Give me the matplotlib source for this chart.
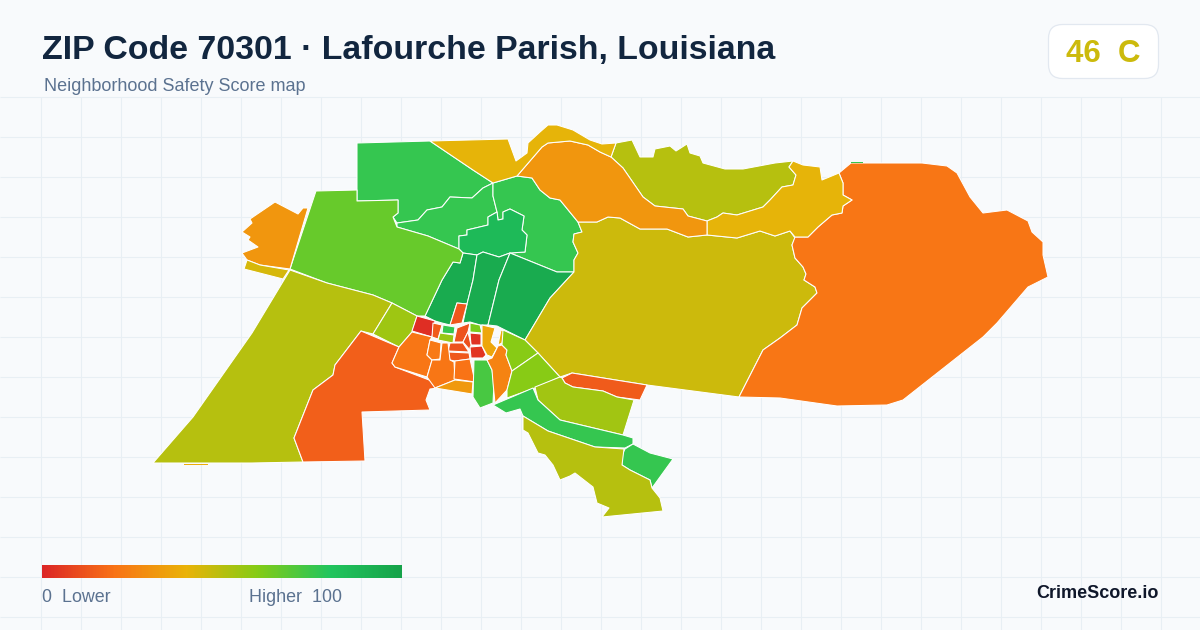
import numpy as np
import matplotlib.pyplot as plt
from matplotlib.colors import LinearSegmentedColormap
from matplotlib.patches import FancyBboxPatch, Polygon

plt.rcParams["font.family"] = ["Liberation Sans", "DejaVu Sans"]

TITLE = "ZIP Code 70301 · Lafourche Parish, Louisiana"
SUBTITLE = "Neighborhood Safety Score map"
GRADE = "46  C"
OVERALL_SCORE = 46

# map outlines, in picture pixels
nw_green = [(357,143),(430,141),(473,170),(493,183),(483,188),(472,198),(450,197),(442,207),(427,210),(418,220),(397,223),(393,217),(398,213),(398,200),(357,201)]
band_green = [(397,223),(418,220),(427,210),(442,207),(450,197),(472,198),(483,188),(493,183),(493,196),(497,212),(488,217),(488,225),(467,230),(467,235),(459,236),(459,249),(428,236),(397,227)]
ne_green = [(493,183),(517,176),(532,178),(540,190),(550,198),(560,200),(578,222),(582,232),(574,234),(573,242),(578,253),(574,260),(574,272),(557,272),(510,253),(525,252),(527,235),(522,230),(524,216),(510,209),(503,212),(503,219),(498,220),(497,212),(493,196)]
inner_green = [(459,249),(459,236),(467,235),(467,230),(488,225),(488,217),(497,212),(498,220),(503,219),(503,212),(510,209),(524,216),(522,230),(527,235),(525,252),(510,253),(499,257),(483,252),(477,255),(463,253)]
strip_left = [(463,253),(477,255),(473,280),(467,304),(457,303),(450,325),(442,323),(435,321),(425,316),(442,280),(453,262),(460,263)]
strip_mid = [(477,255),(483,252),(499,257),(510,253),(499,280),(488,325),(480,325),(470,322),(463,323),(467,304),(473,280)]
strip_right = [(510,253),(557,272),(574,272),(550,298),(525,340),(497,326),(488,325),(499,280)]
center_olive = [(574,272),(574,260),(578,253),(573,242),(574,234),(582,232),(578,222),(597,222),(608,217),(620,218),(640,229),(667,229),(688,237),(707,235),(737,238),(760,231),(775,236),(790,231),(795,238),(792,245),(795,258),(803,267),(806,274),(804,280),(815,287),(817,293),(802,308),(797,325),(780,338),(763,350),(739,397),(647,385),(572,373),(560,377),(538,353),(525,340),(550,298)]
east_orange = [(839,173),(851,163),(922,163),(947,166),(957,173),(970,197),(983,213),(1007,210),(1028,221),(1032,232),(1043,242),(1043,255),(1048,277),(1028,287),(997,323),(983,337),(903,400),(887,405),(837,406),(780,398),(739,397),(763,350),(780,338),(797,325),(802,308),(817,293),(815,287),(804,280),(806,274),(803,267),(795,258),(792,245),(795,237),(808,237),(818,227),(832,215),(842,213),(843,206),(852,200),(843,195),(843,183)]
north_olive = [(611,157),(616,143),(632,140),(640,157),(653,157),(655,149),(670,146),(676,151),(687,144),(690,153),(700,156),(703,163),(725,169),(743,169),(775,163),(793,161),(789,167),(796,175),(793,185),(782,187),(770,200),(763,207),(737,215),(723,213),(717,217),(707,221),(688,216),(683,209),(655,206),(643,197),(623,168)]
ne_yellow = [(793,161),(803,165),(820,167),(822,180),(839,173),(843,183),(843,195),(852,200),(843,206),(842,213),(832,215),(818,227),(808,237),(795,237),(790,231),(775,236),(760,231),(737,238),(707,235),(707,221),(717,217),(723,213),(737,215),(763,207),(770,200),(782,187),(793,185),(796,175),(789,167)]
north_orange = [(517,176),(542,147),(548,143),(570,141),(588,145),(600,152),(611,157),(623,168),(643,197),(655,206),(683,209),(688,216),(707,221),(707,235),(688,237),(667,229),(640,229),(620,218),(608,217),(597,222),(578,222),(560,200),(550,198),(540,190),(532,178)]
top_yellow = [(430,141),(508,139),(516,161),(527,153),(528,143),(540,132),(548,125),(557,125),(573,130),(590,140),(602,144),(616,143),(611,157),(600,152),(588,145),(570,141),(548,143),(542,147),(517,176),(493,183),(473,170)]
west_lime = [(316,191),(357,190),(357,201),(398,200),(398,213),(393,217),(397,227),(428,236),(459,249),(463,253),(460,263),(453,262),(442,280),(425,316),(417,316),(392,303),(373,295),(327,283),(290,269)]
west_orange = [(275,202),(298,214),(303,208),(308,208),(290,269),(260,265),(247,260),(242,253),(258,247),(248,240),(250,237),(242,232),(252,223),(250,219)]
west_sliver = [(247,260),(260,265),(289,270),(283,279),(244,269)]
west_olive = [(290,270),(327,283),(373,295),(392,303),(373,334),(361,331),(335,365),(333,375),(313,390),(294,438),(303,462),(252,463),(208,463),(153,463),(193,417),(252,333)]
small_olive = [(392,303),(417,316),(412,332),(399,347),(373,334)]
sw_orange = [(361,331),(399,347),(392,363),(395,367),(437,383),(438,388),(430,389),(426,400),(430,410),(362,412),(365,461),(303,462),(294,438),(313,390),(333,375),(335,365)]
red_nw = [(417,316),(435,321),(432,337),(412,331)]
red_small = [(433,323),(442,325),(438,339),(432,337)]
green_small = [(443,325),(455,327),(454,334),(442,333)]
lime_small = [(440,333),(454,335),(453,343),(438,340)]
tall_red = [(457,303),(467,304),(462,323),(450,325)]
core_a = [(457,328),(470,323),(468,332),(463,342),(454,342)]
core_lime = [(470,323),(480,325),(482,333),(470,332)]
core_red_a = [(470,333),(481,334),(481,345),(471,345)]
core_b = [(468,332),(471,345),(470,350),(463,342)]
core_red_b = [(470,347),(482,346),(486,355),(483,358),(471,358)]
core_c = [(450,343),(463,343),(469,352),(448,351)]
core_d = [(448,352),(469,353),(470,359),(455,361),(450,360)]
block_a = [(412,332),(432,337),(430,340),(427,355),(432,360),(427,377),(395,367),(392,363),(399,347)]
block_b = [(430,340),(441,343),(440,359),(432,360),(427,355)]
block_c = [(442,343),(448,343),(450,360),(454,362),(455,380),(435,388),(427,377),(432,360),(440,360)]
block_d = [(455,361),(470,359),(475,382),(454,379)]
block_yellow = [(455,380),(473,382),(472,394),(435,388)]
mid_green = [(474,360),(487,360),(492,370),(494,383),(493,403),(480,408),(473,397)]
mid_yellow = [(482,325),(495,328),(491,342),(497,348),(492,357),(487,355),(482,346)]
thin_yellow = [(501,330),(504,331),(502,343),(498,345)]
mid_orange = [(498,346),(502,345),(507,350),(506,355),(512,371),(507,390),(495,403),(493,383),(492,370),(487,360),(492,358)]
lime_upper = [(503,330),(525,340),(538,353),(512,371),(506,355),(507,350),(502,345)]
lime_lower = [(538,353),(560,377),(535,388),(507,398),(507,390),(512,371)]
red_strip = [(562,378),(572,373),(647,385),(640,400),(617,397),(603,391),(573,387),(565,383)]
se_olive = [(560,377),(535,387),(538,400),(560,420),(623,435),(634,400),(617,397),(603,391),(573,387),(565,383),(562,378)]
se_band = [(493,405),(533,388),(538,400),(560,420),(623,435),(633,438),(633,444),(625,448),(595,447),(548,431),(523,416),(520,409),(506,413)]
se_end = [(625,449),(633,444),(650,453),(673,459),(652,488),(650,480),(630,470),(622,465),(622,455)]
south_olive = [(523,416),(548,431),(595,447),(624,449),(622,465),(630,470),(650,480),(652,488),(660,498),(663,511),(602,517),(609,508),(597,503),(593,487),(575,473),(570,476),(560,480),(553,465),(545,455),(538,453),(528,433),(523,430)]
sliver_south = [(184,464),(208,464),(208,465),(184,465)]
sliver_east = [(851,162),(863,162),(863,163),(851,163)]

region_shapes = [nw_green, band_green, ne_green, inner_green, strip_left, strip_mid, strip_right,
                 center_olive, east_orange, north_olive, ne_yellow, north_orange, top_yellow,
                 west_lime, west_orange, west_sliver, west_olive, small_olive, sw_orange,
                 red_nw, red_small, green_small, lime_small, tall_red, core_a, core_lime,
                 core_red_a, core_b, core_red_b, core_c, core_d, block_a, block_b, block_c,
                 block_d, block_yellow, mid_green, mid_yellow, thin_yellow, mid_orange,
                 lime_upper, lime_lower, red_strip, se_olive, se_band, se_end, south_olive]
region_scores = [76, 76, 76, 86, 95, 95, 95,
                 46, 21, 50, 41, 31, 41,
                 66, 31, 44, 50, 55, 15,
                 2, 14, 76, 56, 13, 12, 62,
                 3, 11, 4, 12, 13, 21, 22, 21,
                 20, 32, 72, 36, 38, 25,
                 59, 59, 14, 54, 76, 76, 50]
sliver_shapes = [sliver_south, sliver_east]
sliver_scores = [38, 76]

cmap_stops = [0.0, 0.2, 0.4, 0.6, 0.8, 1.0]
cmap_colors = ["#dc2626", "#f97316", "#eab308", "#84cc16", "#22c55e", "#16a34a"]
score_cmap = LinearSegmentedColormap.from_list("score", list(zip(cmap_stops, cmap_colors)))

fig = plt.figure(figsize=(12, 6.3), dpi=100, facecolor="#f8fafc")
ax = fig.add_axes([0, 0, 1, 1])
ax.set_facecolor("#f8fafc")

ax.vlines(np.arange(40.5, 1200, 40), 96.5, 630, color="#e8eff4", linewidth=0.8, zorder=1)
ax.hlines(np.arange(96.5, 630, 40), 0, 1200, color="#e8eff4", linewidth=0.8, zorder=1)

for shape, score in zip(region_shapes, region_scores):
    ax.add_patch(Polygon(shape, closed=True, facecolor=score_cmap(score / 100), edgecolor="white",
                         linewidth=0.75, joinstyle="round", zorder=2))
for shape, score in zip(sliver_shapes, sliver_scores):
    ax.add_patch(Polygon(shape, closed=True, facecolor=score_cmap(score / 100), edgecolor="none", zorder=2))

gradient = np.linspace(0, 1, 360).reshape(1, -1)
ax.imshow(gradient, cmap=score_cmap, extent=(42, 402, 578, 565), aspect="auto", zorder=3)

ax.set_xlim(0, 1200)
ax.set_ylim(630, 0)
ax.axis("off")

ax.text(42, 59, TITLE, fontsize=24.4, fontweight="bold", color="#12263f", zorder=4)
ax.text(44, 91, SUBTITLE, fontsize=13, color="#5b7290", zorder=4)

ax.add_patch(FancyBboxPatch((1048.5, 24.5), 110, 54, boxstyle="round,pad=0,rounding_size=14",
                            facecolor="white", edgecolor="#e2e8f0", linewidth=0.9, zorder=3))
ax.text(1103, 62, GRADE, fontsize=22.5, fontweight="bold", ha="center",
        color=score_cmap(OVERALL_SCORE / 100), zorder=4)

ax.text(42, 602, "0  Lower", fontsize=12.9, color="#5b7290", zorder=4)
ax.text(249, 602, "Higher  100", fontsize=12.9, color="#5b7290", zorder=4)
ax.text(1158.5, 598, "CrimeScore.io", fontsize=13, fontweight="bold", ha="right", color="#0f172a", zorder=4)

plt.savefig("out.png", dpi=100, facecolor=fig.get_facecolor())
plt.close(fig)
